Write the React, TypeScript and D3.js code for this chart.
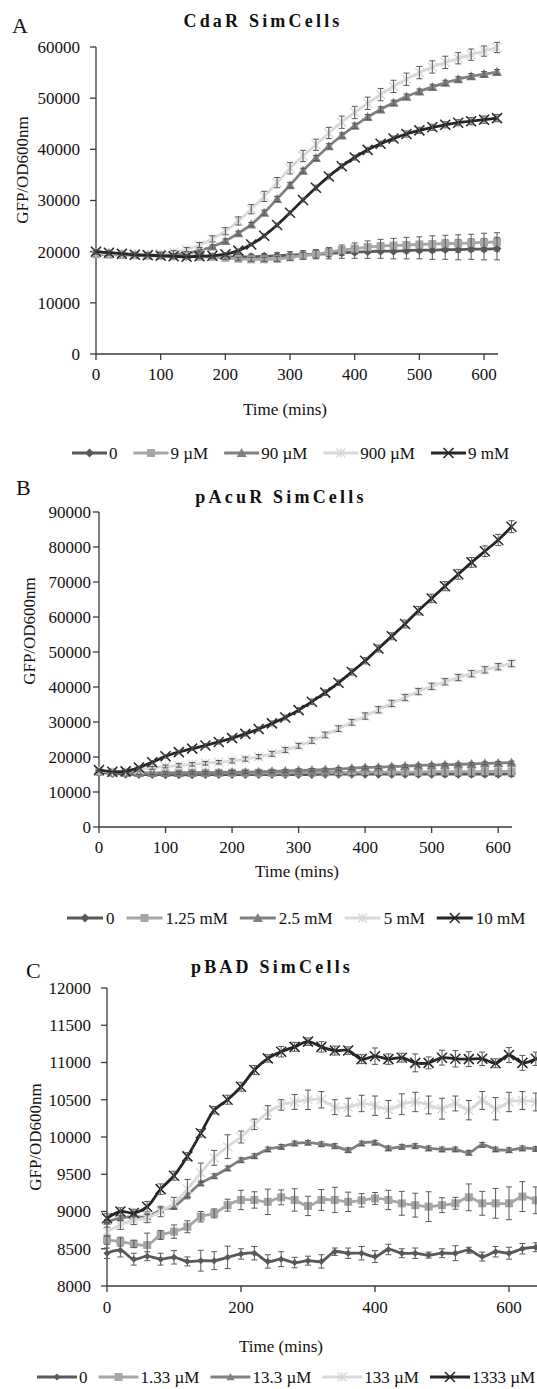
import React from "react";
import * as d3 from "d3";

// ---------------- DATA ----------------
const TIME_AB = [0, 20, 40, 60, 80, 100, 120, 140, 160, 180, 200, 220, 240, 260, 280, 300, 320, 340, 360, 380, 400, 420, 440, 460, 480, 500, 520, 540, 560, 580, 600, 620];
const TIME_C = [0, 20, 40, 60, 80, 100, 120, 140, 160, 180, 200, 220, 240, 260, 280, 300, 320, 340, 360, 380, 400, 420, 440, 460, 480, 500, 520, 540, 560, 580, 600, 620, 640];

const LABELS_A = ["0", "9 µM", "90 µM", "900 µM", "9 mM"];
const LABELS_B = ["0", "1.25 mM", "2.5 mM", "5 mM", "10 mM"];
const LABELS_C = ["0", "1.33 µM", "13.3 µM", "133 µM", "1333 µM"];

const TICKS_X_AB = [0, 100, 200, 300, 400, 500, 600];
const TICKS_X_C = [0, 200, 400, 600];
const TICKS_Y_A = [0, 10000, 20000, 30000, 40000, 50000, 60000];
const TICKS_Y_B = [0, 10000, 20000, 30000, 40000, 50000, 60000, 70000, 80000, 90000];
const TICKS_Y_C = [8000, 8500, 9000, 9500, 10000, 10500, 11000, 11500, 12000];

// Panel A (CdaR)
const A_0 = [20000, 19800, 19600, 19500, 19400, 19300, 19200, 19100, 19100, 19000, 19000, 19000, 19000, 19100, 19200, 19300, 19400, 19500, 19600, 19800, 19900, 20000, 20100, 20100, 20200, 20300, 20300, 20400, 20400, 20500, 20500, 20600];
const A_9uM = [19500, 19400, 19300, 19300, 19200, 19200, 19100, 19100, 19000, 19000, 18800, 18600, 18500, 18500, 18600, 18900, 19200, 19500, 19900, 20300, 20600, 20900, 21100, 21200, 21300, 21400, 21500, 21600, 21600, 21700, 21800, 21900];
const A_90uM = [19800, 19600, 19500, 19400, 19400, 19400, 19500, 19700, 20200, 21000, 22100, 23600, 25300, 27600, 30300, 33000, 35800, 38300, 40600, 42700, 44600, 46300, 47800, 49100, 50300, 51300, 52200, 53000, 53700, 54300, 54700, 55100];
const A_900uM = [19800, 19600, 19500, 19500, 19500, 19600, 19900, 20400, 21300, 22500, 24000, 26000, 28300, 30800, 33500, 36300, 38700, 40900, 43200, 45300, 47200, 49000, 50700, 52300, 53700, 55000, 56100, 57000, 57800, 58500, 59200, 59900];
const A_9mM = [20000, 19800, 19600, 19400, 19300, 19200, 19100, 19000, 19100, 19200, 19500, 20200, 21400, 23100, 25200, 27600, 30100, 32500, 34700, 36700, 38400, 39900, 41100, 42100, 43000, 43700, 44300, 44800, 45200, 45500, 45800, 46100];
const A_0_ERR = [300, 300, 300, 300, 300, 300, 300, 300, 300, 300, 400, 400, 500, 500, 600, 700, 800, 900, 1000, 1100, 1200, 1300, 1400, 1500, 1600, 1700, 1800, 1900, 2000, 2000, 2100, 2200];
const A_9uM_ERR = [300, 300, 300, 300, 300, 300, 300, 300, 300, 300, 300, 300, 400, 400, 500, 600, 700, 800, 900, 1000, 1100, 1200, 1300, 1400, 1500, 1500, 1600, 1600, 1700, 1700, 1800, 1800];
const A_90uM_ERR = [300, 300, 300, 300, 300, 300, 300, 300, 300, 300, 400, 400, 400, 500, 500, 500, 500, 500, 500, 500, 500, 500, 500, 500, 500, 500, 500, 500, 500, 500, 500, 500];
const A_900uM_ERR = [300, 300, 300, 300, 300, 300, 300, 400, 500, 600, 700, 800, 900, 1000, 1000, 1100, 1100, 1100, 1100, 1200, 1200, 1200, 1200, 1200, 1200, 1200, 1200, 1200, 1100, 1100, 1000, 1000];
const A_9mM_ERR = [400, 400, 300, 300, 300, 300, 300, 300, 300, 300, 300, 300, 300, 400, 400, 400, 400, 500, 500, 500, 500, 500, 500, 500, 600, 600, 600, 600, 600, 700, 700, 700];

// Panel B (pAcuR)
const B_0 = [15600, 15300, 15100, 15000, 15000, 14900, 14900, 14900, 15000, 15000, 15000, 15000, 15000, 15000, 15000, 15000, 15000, 15100, 15100, 15100, 15100, 15100, 15100, 15100, 15100, 15100, 15100, 15100, 15100, 15100, 15100, 15200];
const B_125mM = [16000, 15700, 15600, 15500, 15500, 15500, 15500, 15500, 15500, 15500, 15500, 15500, 15500, 15500, 15500, 15600, 15600, 15600, 15600, 15600, 15700, 15700, 15700, 15700, 15700, 15800, 15800, 15800, 15800, 15900, 15900, 15900];
const B_25mM = [15800, 15600, 15500, 15400, 15400, 15400, 15400, 15500, 15500, 15600, 15700, 15700, 15800, 15900, 16000, 16200, 16300, 16400, 16600, 16800, 17000, 17100, 17300, 17400, 17600, 17700, 17800, 17900, 18000, 18200, 18300, 18400];
const B_5mM = [16000, 15800, 16000, 16400, 16900, 17300, 17600, 17900, 18200, 18500, 18900, 19400, 20100, 20900, 22000, 23200, 24700, 26300, 28100, 29900, 31700, 33500, 35300, 37000, 38700, 40200, 41500, 42700, 43800, 44900, 45800, 46700];
const B_10mM = [16300, 15800, 15900, 17000, 18500, 20200, 21400, 22400, 23300, 24300, 25400, 26600, 28000, 29600, 31300, 33400, 35800, 38400, 41200, 44300, 47500, 51000, 54500, 58000, 61800, 65300, 68800, 72200, 75600, 78800, 82000, 85800];
const B_0_ERR = [300, 300, 300, 300, 300, 300, 300, 300, 300, 300, 300, 300, 300, 300, 300, 300, 300, 300, 300, 300, 300, 300, 300, 300, 300, 300, 300, 300, 300, 300, 300, 300];
const B_125mM_ERR = [300, 300, 300, 300, 300, 300, 400, 400, 400, 500, 500, 500, 600, 600, 700, 700, 800, 800, 900, 900, 1000, 1000, 1100, 1100, 1200, 1200, 1300, 1300, 1400, 1400, 1500, 1500];
const B_25mM_ERR = [400, 400, 400, 400, 400, 400, 400, 400, 400, 400, 400, 400, 400, 400, 400, 400, 400, 400, 400, 400, 400, 400, 400, 400, 400, 400, 400, 400, 400, 400, 400, 400];
const B_5mM_ERR = [300, 300, 300, 400, 400, 400, 500, 500, 500, 500, 600, 600, 600, 700, 700, 700, 800, 800, 800, 800, 900, 900, 900, 900, 900, 900, 900, 900, 900, 900, 900, 900];
const B_10mM_ERR = [400, 400, 400, 400, 500, 500, 500, 500, 500, 600, 600, 600, 600, 700, 700, 700, 800, 800, 800, 900, 900, 1000, 1000, 1100, 1200, 1200, 1300, 1400, 1400, 1500, 1600, 1700];

// Panel C (pBAD)
const C_0 = [8440, 8480, 8360, 8400, 8360, 8385, 8330, 8340, 8340, 8385, 8430, 8440, 8330, 8360, 8315, 8340, 8330, 8460, 8440, 8440, 8395, 8490, 8440, 8440, 8415, 8440, 8440, 8480, 8395, 8460, 8440, 8500, 8520];
const C_133uM = [8620, 8595, 8565, 8550, 8685, 8730, 8795, 8930, 8975, 9085, 9155, 9155, 9130, 9190, 9155, 9075, 9155, 9155, 9130, 9150, 9175, 9155, 9110, 9085, 9065, 9085, 9110, 9190, 9110, 9110, 9110, 9200, 9150];
const C_133uM_13 = [8865, 8910, 8930, 8930, 9020, 9065, 9220, 9380, 9475, 9580, 9690, 9745, 9835, 9870, 9915, 9925, 9905, 9880, 9825, 9915, 9925, 9850, 9870, 9880, 9850, 9835, 9835, 9790, 9895, 9835, 9825, 9850, 9840];
const C_133uM_133 = [8730, 8820, 8885, 8910, 9000, 9110, 9300, 9520, 9720, 9870, 10000, 10170, 10330, 10430, 10470, 10500, 10500, 10400, 10400, 10450, 10420, 10370, 10440, 10470, 10430, 10380, 10450, 10360, 10490, 10380, 10470, 10490, 10470];
const C_1333uM = [8910, 9000, 8980, 9065, 9300, 9480, 9740, 10050, 10360, 10500, 10675, 10900, 11055, 11145, 11210, 11280, 11210, 11160, 11160, 11045, 11085, 11045, 11065, 10995, 10995, 11065, 11050, 11045, 11050, 10990, 11100, 10995, 11050];
const C_0_ERR = [70, 90, 80, 60, 80, 90, 60, 140, 120, 150, 70, 90, 90, 100, 70, 60, 90, 50, 70, 90, 80, 70, 60, 70, 40, 60, 100, 40, 60, 70, 80, 70, 60];
const C_133uM_ERR = [60, 60, 50, 160, 60, 90, 80, 70, 60, 80, 130, 110, 170, 100, 150, 130, 140, 170, 130, 90, 80, 130, 160, 160, 200, 100, 80, 180, 160, 200, 220, 200, 180];
const C_133uM_13_ERR = [30, 30, 30, 30, 30, 30, 30, 30, 30, 30, 30, 30, 30, 30, 30, 30, 30, 30, 30, 30, 30, 30, 30, 30, 30, 30, 30, 30, 30, 30, 30, 30, 30];
const C_133uM_133_ERR = [60, 60, 60, 60, 70, 80, 130, 130, 100, 160, 80, 70, 90, 70, 100, 130, 110, 100, 120, 110, 130, 120, 140, 130, 120, 140, 100, 130, 120, 150, 130, 120, 120];
const C_1333uM_ERR = [60, 50, 50, 70, 70, 60, 50, 50, 50, 60, 60, 60, 50, 70, 60, 50, 70, 60, 50, 60, 110, 70, 60, 120, 80, 100, 110, 100, 90, 60, 100, 100, 90];

// ---------------- STYLE ----------------
const FONT = "'Liberation Serif', 'Times New Roman', Times, serif";
const COLORS = ["#595959", "#A6A6A6", "#808080", "#D9D9D9", "#262626"];
const MARKERS = ["diamond", "square", "triangle", "star", "x"];
const ERR_COLOR = "#595959";
const AXIS_COLOR = "#3a3a3a";
const TEXT_COLOR = "#111";

type MarkerType = "diamond" | "square" | "triangle" | "star" | "x";

function Marker({ type, x, y, size, color }: { type: MarkerType; x: number; y: number; size: number; color: string }) {
  const h = size / 2;
  switch (type) {
    case "diamond":
      return <path d={`M${x},${y - h}L${x + h},${y}L${x},${y + h}L${x - h},${y}Z`} fill={color} />;
    case "square":
      return <rect x={x - h} y={y - h} width={size} height={size} fill={color} />;
    case "triangle":
      return <path d={`M${x},${y - h}L${x + h},${y + h * 0.8}L${x - h},${y + h * 0.8}Z`} fill={color} />;
    case "star":
      return (
        <path
          d={`M${x - h},${y - h}L${x + h},${y + h}M${x - h},${y + h}L${x + h},${y - h}M${x},${y - h}L${x},${y + h}`}
          stroke={color}
          strokeWidth={1.4}
          fill="none"
        />
      );
    case "x":
      return (
        <path
          d={`M${x - h},${y - h}L${x + h},${y + h}M${x - h},${y + h}L${x + h},${y - h}`}
          stroke={color}
          strokeWidth={1.5}
          fill="none"
        />
      );
  }
  return null;
}

let measureCtx: CanvasRenderingContext2D | null = null;
function textWidth(t: string, font: string) {
  if (!measureCtx) {
    const c = document.createElement("canvas");
    measureCtx = c.getContext("2d");
  }
  if (!measureCtx) return t.length * 8;
  measureCtx.font = font;
  return measureCtx.measureText(t).width;
}

interface PanelSpec {
  letter: string;
  title: string;
  letterPos: [number, number];
  titlePos: [number, number];
  times: number[];
  xDomain: [number, number];
  xRange: [number, number];
  xAxisEnd: number;
  xTicks: number[];
  xTickLabelY: number;
  xLabelPos: [number, number];
  yDomain: [number, number];
  yRange: [number, number];
  yTicks: number[];
  yLabelGap: number;
  yLabelPos: [number, number];
  labels: string[];
  values: number[][];
  errors: number[][];
  markerSizes: number[];
  legend: { x: number; y: number; lineLen: number; textGap: number; itemGap: number };
}

const PANELS: PanelSpec[] = [
  {
    letter: "A",
    title: "CdaR SimCells",
    letterPos: [12, 33],
    titlePos: [263, 27],
    times: TIME_AB,
    xDomain: [0, 620],
    xRange: [96, 497],
    xAxisEnd: 498,
    xTicks: TICKS_X_AB,
    xTickLabelY: 380,
    xLabelPos: [285, 415],
    yDomain: [0, 60000],
    yRange: [354, 47],
    yTicks: TICKS_Y_A,
    yLabelGap: 16,
    yLabelPos: [22, 170],
    labels: LABELS_A,
    values: [A_0, A_9uM, A_90uM, A_900uM, A_9mM],
    errors: [A_0_ERR, A_9uM_ERR, A_90uM_ERR, A_900uM_ERR, A_9mM_ERR],
    markerSizes: [9, 8, 10, 9, 10],
    legend: { x: 72, y: 453, lineLen: 35, textGap: 2, itemGap: 16 },
  },
  {
    letter: "B",
    title: "pAcuR SimCells",
    letterPos: [16, 495],
    titlePos: [281, 503],
    times: TIME_AB,
    xDomain: [0, 620],
    xRange: [99, 511.5],
    xAxisEnd: 512,
    xTicks: TICKS_X_AB,
    xTickLabelY: 853,
    xLabelPos: [297, 877],
    yDomain: [0, 90000],
    yRange: [827, 512],
    yTicks: TICKS_Y_B,
    yLabelGap: 8,
    yLabelPos: [29, 631],
    labels: LABELS_B,
    values: [B_0, B_125mM, B_25mM, B_5mM, B_10mM],
    errors: [B_0_ERR, B_125mM_ERR, B_25mM_ERR, B_5mM_ERR, B_10mM_ERR],
    markerSizes: [9, 8, 10, 9, 10],
    legend: { x: 67, y: 918, lineLen: 36, textGap: 3, itemGap: 12 },
  },
  {
    letter: "C",
    title: "pBAD SimCells",
    letterPos: [26, 978],
    titlePos: [272, 973],
    times: TIME_C,
    xDomain: [0, 600],
    xRange: [107, 509],
    xAxisEnd: 560,
    xTicks: TICKS_X_C,
    xTickLabelY: 1313,
    xLabelPos: [281, 1352],
    yDomain: [8000, 12000],
    yRange: [1286, 988],
    yTicks: TICKS_Y_C,
    yLabelGap: 16,
    yLabelPos: [35, 1137],
    labels: LABELS_C,
    values: [C_0, C_133uM, C_133uM_13, C_133uM_133, C_1333uM],
    errors: [C_0_ERR, C_133uM_ERR, C_133uM_13_ERR, C_133uM_133_ERR, C_1333uM_ERR],
    markerSizes: [7, 8, 8, 9, 10],
    legend: { x: 37, y: 1377, lineLen: 40, textGap: 2, itemGap: 11 },
  },
];

const FS = 17;

function Panel({ p }: { p: PanelSpec }) {
  const x = d3.scaleLinear().domain(p.xDomain).range(p.xRange);
  const y = d3.scaleLinear().domain(p.yDomain).range(p.yRange);
  const line = d3
    .line<[number, number]>()
    .x((d) => x(d[0]))
    .y((d) => y(d[1]))
    .curve(d3.curveCatmullRom.alpha(0.5));
  const x0 = p.xRange[0];
  const yBase = p.yRange[0];
  const font = `${FS}px 'Liberation Serif'`;

  // legend layout
  let lx = p.legend.x;
  const legendItems = p.labels.map((lab, i) => {
    const start = lx;
    const textX = start + p.legend.lineLen + p.legend.textGap;
    lx = textX + textWidth(lab, font) + p.legend.itemGap;
    return { lab, i, start, textX };
  });

  return (
    <g>
      <text x={p.letterPos[0]} y={p.letterPos[1]} fontSize={22} fontFamily={FONT} fill={TEXT_COLOR}>
        {p.letter}
      </text>
      <text
        x={p.titlePos[0]}
        y={p.titlePos[1]}
        fontSize={18}
        fontWeight="bold"
        letterSpacing={3.2}
        textAnchor="middle"
        fontFamily={FONT}
        fill={TEXT_COLOR}
      >
        {p.title}
      </text>

      {/* y axis */}
      <line x1={x0} x2={x0} y1={p.yRange[1]} y2={yBase} stroke={AXIS_COLOR} strokeWidth={1.3} />
      {p.yTicks.map((t) => (
        <g key={`yt${t}`}>
          <line x1={x0 - 6} x2={x0} y1={y(t)} y2={y(t)} stroke={AXIS_COLOR} strokeWidth={1.3} />
          <text
            x={x0 - p.yLabelGap}
            y={y(t)}
            dy="0.35em"
            textAnchor="end"
            fontSize={FS}
            fontFamily={FONT}
            fill={TEXT_COLOR}
          >
            {t}
          </text>
        </g>
      ))}
      {/* x axis */}
      <line x1={x0} x2={p.xAxisEnd} y1={yBase} y2={yBase} stroke={AXIS_COLOR} strokeWidth={1.3} />
      {p.xTicks.map((t) => (
        <g key={`xt${t}`}>
          <line x1={x(t)} x2={x(t)} y1={yBase} y2={yBase + 6} stroke={AXIS_COLOR} strokeWidth={1.3} />
          <text x={x(t)} y={p.xTickLabelY} textAnchor="middle" fontSize={FS} fontFamily={FONT} fill={TEXT_COLOR}>
            {t}
          </text>
        </g>
      ))}
      <text
        x={p.xLabelPos[0]}
        y={p.xLabelPos[1]}
        textAnchor="middle"
        fontSize={FS}
        fontFamily={FONT}
        fill={TEXT_COLOR}
      >
        Time (mins)
      </text>
      <text
        transform={`translate(${p.yLabelPos[0]},${p.yLabelPos[1]}) rotate(-90)`}
        textAnchor="middle"
        dy="0.35em"
        fontSize={FS}
        fontFamily={FONT}
        fill={TEXT_COLOR}
      >
        GFP/OD600nm
      </text>

      {/* series */}
      {p.values.map((vals, si) => {
        const pts: [number, number][] = p.times.map((t, k) => [t, vals[k]]);
        const type = MARKERS[si] as MarkerType;
        const col = COLORS[si];
        return (
          <g key={`s${si}`}>
            <path d={line(pts) || ""} fill="none" stroke={col} strokeWidth={2.8} />
            {pts.map((d, k) => (
              <Marker key={`m${k}`} type={type} x={x(d[0])} y={y(d[1])} size={p.markerSizes[si]} color={col} />
            ))}
            {pts.map((d, k) => {
              const e = p.errors[si][k];
              const cx = x(d[0]);
              const y1 = y(d[1] - e);
              const y2 = y(d[1] + e);
              return (
                <path
                  key={`e${k}`}
                  d={`M${cx},${y1}L${cx},${y2}M${cx - 3},${y1}L${cx + 3},${y1}M${cx - 3},${y2}L${cx + 3},${y2}`}
                  stroke={ERR_COLOR}
                  strokeWidth={1}
                  fill="none"
                />
              );
            })}
          </g>
        );
      })}

      {/* legend */}
      {legendItems.map(({ lab, i, start, textX }) => (
        <g key={`lg${i}`}>
          <line
            x1={start}
            x2={start + p.legend.lineLen}
            y1={p.legend.y}
            y2={p.legend.y}
            stroke={COLORS[i]}
            strokeWidth={2.8}
          />
          <Marker
            type={MARKERS[i] as MarkerType}
            x={start + p.legend.lineLen / 2}
            y={p.legend.y}
            size={p.markerSizes[i]}
            color={COLORS[i]}
          />
          <text x={textX} y={p.legend.y} dy="0.35em" fontSize={FS} fontFamily={FONT} fill={TEXT_COLOR}>
            {lab}
          </text>
        </g>
      ))}
    </g>
  );
}

export default function App() {
  return (
    <svg
      width={537}
      height={1389}
      viewBox="0 0 537 1389"
      style={{ position: "absolute", left: 0, top: 0, background: "#fff" }}
    >
      <rect x={0} y={0} width={537} height={1389} fill="#fff" />
      {PANELS.map((p) => (
        <Panel key={p.letter} p={p} />
      ))}
    </svg>
  );
}
